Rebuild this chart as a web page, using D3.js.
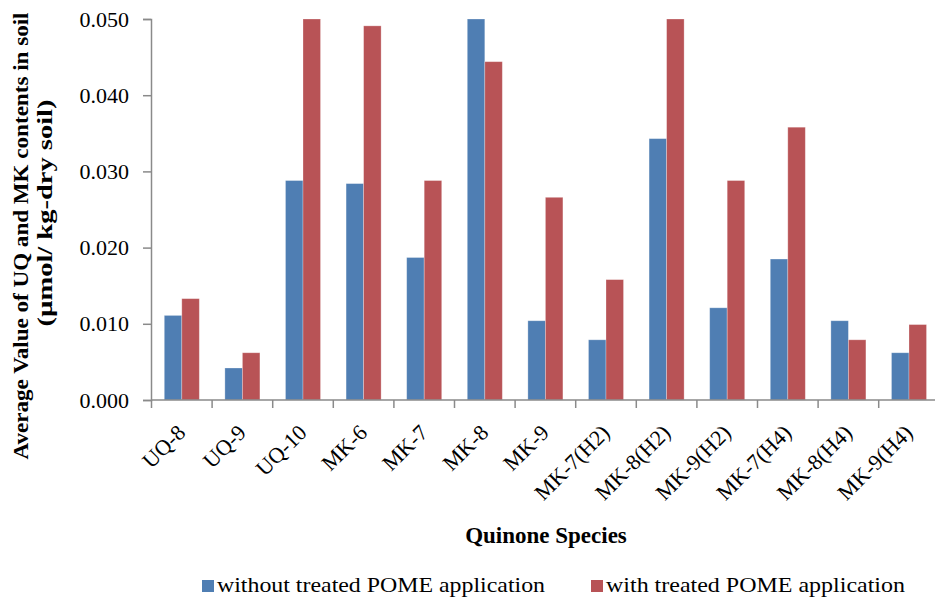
<!DOCTYPE html>
<html>
<head>
<meta charset="utf-8">
<script src="https://cdn.jsdelivr.net/npm/d3@7"></script>
<style>
  body { margin: 0; background: #fff; }
  text { font-family: "Liberation Serif", "Times New Roman", serif; fill: #000; }
</style>
</head>
<body>
<div id="chart"></div>
<script>
// quinone species on the x axis
var species = ["UQ-8", "UQ-9", "UQ-10", "MK-6", "MK-7", "MK-8", "MK-9",
               "MK-7(H2)", "MK-8(H2)", "MK-9(H2)", "MK-7(H4)", "MK-8(H4)", "MK-9(H4)"];

// series
var seriesNames = ["without treated POME application", "with treated POME application"];
var withoutPome = [0.0111, 0.0042, 0.0288, 0.0284, 0.0187, 0.0500, 0.0104,
                   0.0079, 0.0343, 0.0121, 0.0185, 0.0104, 0.0062];
var withPome    = [0.0133, 0.0062, 0.0500, 0.0491, 0.0288, 0.0444, 0.0266,
                   0.0158, 0.0500, 0.0288, 0.0358, 0.0079, 0.0099];

var yTicks = [0, 0.01, 0.02, 0.03, 0.04, 0.05];
var colors = ["#4f7eb3", "#b85356"];

var width = 935, height = 602;

var svg = d3.select("#chart")
    .append("svg")
    .attr("width", width)
    .attr("height", height);

//scales
var x0 = d3.scaleBand()
    .domain(species)
    .range([151.5, 939.3])
    .padding(0);

var x1 = d3.scaleBand()
    .domain([0, 1])
    .range([0, x0.bandwidth()])
    .paddingInner(0)
    .paddingOuter(0.73);

var y = d3.scaleLinear()
    .domain([0, 0.05])
    .range([400, 19]);

//bars
var groups = svg.append("g").attr("class", "bars")
    .selectAll("g")
    .data(species)
    .enter().append("g")
    .attr("transform", function(d) { return "translate(" + x0(d) + ",0)"; });

groups.selectAll("rect")
    .data(function(d, i) { return [withoutPome[i], withPome[i]]; })
    .enter().append("rect")
    .attr("x", function(d, j) { return x1(j); })
    .attr("y", function(d) { return y(d); })
    .attr("width", x1.bandwidth())
    .attr("height", function(d) { return y(0) - y(d); })
    .attr("fill", function(d, j) { return colors[j]; })
    .attr("stroke", "#ffffff")
    .attr("stroke-opacity", 0.35)
    .attr("stroke-width", 0.8);

//y axis
var yAxis = svg.append("g")
    .attr("transform", "translate(151,0)")
    .call(d3.axisLeft(y).tickValues(yTicks).tickFormat(d3.format(".3f")).tickSize(8).tickPadding(14));

yAxis.select(".domain").attr("stroke", "#8a8a8a").attr("stroke-width", 1.5);
yAxis.selectAll(".tick line").attr("stroke", "#8a8a8a").attr("stroke-width", 1.5);
yAxis.selectAll(".tick text")
    .style("font-family", "Liberation Serif")
    .style("font-size", "22px")
    .attr("fill", "#000");

//x axis line and ticks at band edges
var xg = svg.append("g").attr("class", "x-axis");
xg.append("line")
    .attr("x1", 151).attr("x2", 935)
    .attr("y1", y(0)).attr("y2", y(0))
    .attr("stroke", "#8a8a8a").attr("stroke-width", 1.5);

xg.selectAll("line.tick")
    .data(species)
    .enter().append("line")
    .attr("class", "tick")
    .attr("x1", function(d) { return x0(d); })
    .attr("x2", function(d) { return x0(d); })
    .attr("y1", y(0))
    .attr("y2", y(0) + 8)
    .attr("stroke", "#8a8a8a").attr("stroke-width", 1.5);

xg.selectAll("text")
    .data(species)
    .enter().append("text")
    .attr("transform", function(d) {
        return "translate(" + (x0(d) + x0.bandwidth() / 2 + 5) + ",434) rotate(-45)";
    })
    .attr("text-anchor", "end")
    .style("font-size", "22px")
    .text(function(d) { return d; });

//axis titles
svg.append("text")
    .attr("transform", "translate(28,236) rotate(-90)")
    .attr("text-anchor", "middle")
    .attr("font-weight", "bold")
    .style("font-size", "20px")
    .attr("textLength", 447)
    .attr("lengthAdjust", "spacingAndGlyphs")
    .text("Average  Value of UQ and MK contents in soil");

svg.append("text")
    .attr("transform", "translate(52,213) rotate(-90)")
    .attr("text-anchor", "middle")
    .attr("font-weight", "bold")
    .style("font-size", "20px")
    .attr("textLength", 227)
    .attr("lengthAdjust", "spacingAndGlyphs")
    .text("(µmol/ kg-dry soil)");

svg.append("text")
    .attr("x", 546)
    .attr("y", 543)
    .attr("text-anchor", "middle")
    .attr("font-weight", "bold")
    .style("font-size", "23px")
    .text("Quinone Species");

//legend
var legendX = [202, 591];
var legendW = [328, 299];
var legend = svg.append("g").attr("class", "legend")
    .selectAll("g")
    .data(seriesNames)
    .enter().append("g")
    .attr("transform", function(d, i) { return "translate(" + legendX[i] + ",580)"; });

legend.append("rect")
    .attr("width", 12)
    .attr("height", 12)
    .attr("fill", function(d, i) { return colors[i]; });

legend.append("text")
    .attr("x", 15)
    .attr("y", 12)
    .style("font-size", "22px")
    .attr("textLength", function(d, i) { return legendW[i]; })
    .attr("lengthAdjust", "spacingAndGlyphs")
    .text(function(d) { return d; });
</script>
</body>
</html>
